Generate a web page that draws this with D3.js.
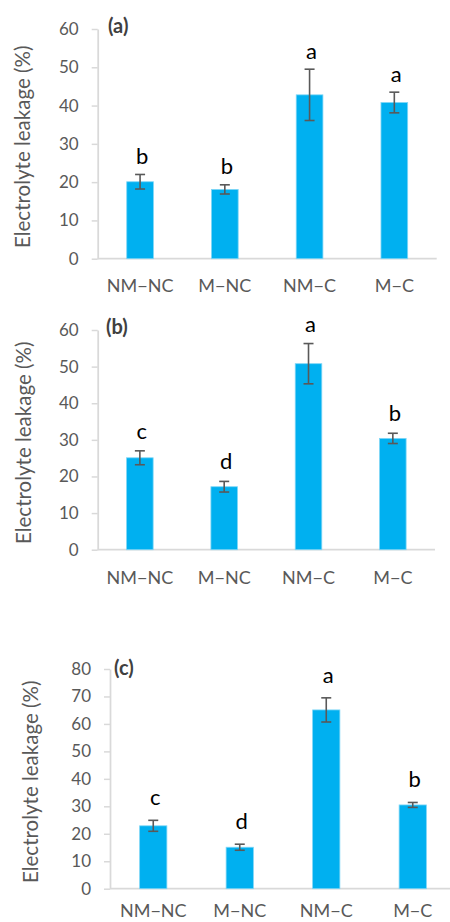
<!DOCTYPE html>
<html>
<head>
<meta charset="utf-8">
<script src="https://cdn.jsdelivr.net/npm/d3@7"></script>
<style>
  html, body { margin: 0; padding: 0; background: #fff; }
  svg { display: block; }
  text { font-family: Lato, "Open Sans", sans-serif; }
</style>
</head>
<body>
<svg id="chart" width="450" height="922"></svg>
<script>
// Treatment groups shared by all three panels
const categories = ["NM\u2212NC", "M\u2212NC", "NM\u2212C", "M\u2212C"];

// Panel (a)
const valuesA = [20.1, 18.1, 42.8, 40.8];
const errorsA = [1.9, 1.2, 6.7, 2.7];
const lettersA = ["b", "b", "a", "a"];

// Panel (b)
const valuesB = [25.1, 17.2, 50.8, 30.4];
const errorsB = [1.9, 1.45, 5.5, 1.4];
const lettersB = ["c", "d", "a", "b"];

// Panel (c)
const valuesC = [22.9, 15.1, 65.1, 30.5];
const errorsC = [2.0, 1.1, 4.4, 0.9];
const lettersC = ["c", "d", "a", "b"];

// Y axis ticks
const ticksAB = [0, 10, 20, 30, 40, 50, 60];
const ticksC = [0, 10, 20, 30, 40, 50, 60, 70, 80];

const yTitle = "Electrolyte leakage (%)";

const svg = d3.select("#chart");

function drawPanel(cfg) {
  const g = svg.append("g");
  const yMax = d3.max(cfg.ticks);

  const x = d3.scaleBand()
    .domain(categories)
    .range([cfg.left, cfg.right])
    .paddingInner(0.685)
    .paddingOuter(0.685 / 2);

  const y = d3.scaleLinear()
    .domain([0, yMax])
    .range([cfg.bottom, cfg.top]);

  // Y axis
  const yAxis = d3.axisLeft(y)
    .tickValues(cfg.ticks)
    .tickSize(6)
    .tickSizeOuter(0)
    .tickPadding(13);

  const ya = g.append("g")
    .attr("transform", `translate(${cfg.left},0)`)
    .call(yAxis);
  ya.select(".domain").attr("stroke", "#d9d9d9").attr("stroke-width", 1.75);
  ya.selectAll(".tick line").attr("stroke", "#d9d9d9").attr("stroke-width", 1.5);
  ya.selectAll(".tick text")
    .attr("fill", "#595959")
    .attr("font-size", 17)
    .attr("font-family", "Lato, sans-serif");

  // X axis (category labels, no tick marks)
  const xAxis = d3.axisBottom(x).tickSize(0).tickSizeOuter(0).tickPadding(0);
  const xa = g.append("g")
    .attr("transform", `translate(0,${cfg.bottom})`)
    .call(xAxis);
  xa.select(".domain")
    .attr("d", `M${cfg.left},0H${cfg.axisEnd}`)
    .attr("stroke", "#d9d9d9").attr("stroke-width", 1.75);
  xa.selectAll(".tick text")
    .attr("dy", null)
    .attr("y", cfg.labelGap)
    .attr("fill", "#595959")
    .attr("font-size", 18)
    .attr("font-family", "Lato, sans-serif");

  const rows = categories.map((c, i) => ({
    cat: c, v: cfg.values[i], e: cfg.errors[i], l: cfg.letters[i]
  }));

  // Bars
  g.append("g").selectAll("rect")
    .data(rows)
    .join("rect")
    .attr("x", d => x(d.cat))
    .attr("width", x.bandwidth())
    .attr("y", d => y(d.v))
    .attr("height", d => y(0) - y(d.v))
    .attr("fill", "#00b0f0")
    .attr("stroke", "#7fd6f6")
    .attr("stroke-width", 0.8);

  // Error bars
  const eb = g.append("g")
    .attr("stroke", "#595959")
    .attr("stroke-width", 1.6)
    .selectAll("g")
    .data(rows)
    .join("g")
    .attr("transform", d => `translate(${x(d.cat) + x.bandwidth() / 2},0)`);
  eb.append("line")
    .attr("y1", d => y(d.v + d.e)).attr("y2", d => y(d.v - d.e));
  eb.append("line")
    .attr("x1", -5).attr("x2", 5)
    .attr("y1", d => y(d.v + d.e)).attr("y2", d => y(d.v + d.e));
  eb.append("line")
    .attr("x1", -5).attr("x2", 5)
    .attr("y1", d => y(d.v - d.e)).attr("y2", d => y(d.v - d.e));

  // Significance letters
  g.append("g").selectAll("text")
    .data(rows)
    .join("text")
    .attr("x", d => x(d.cat) + x.bandwidth() / 2 + 2)
    .attr("y", d => y(d.v + d.e) - cfg.letterGap)
    .attr("text-anchor", "middle")
    .attr("font-size", 22)
    .attr("fill", "#000")
    .text(d => d.l);

  // Panel tag
  g.append("text")
    .attr("x", cfg.tagX)
    .attr("y", cfg.tagY)
    .attr("font-size", 20)
    .attr("font-weight", 700)
    .attr("fill", "#404040")
    .text(cfg.tag);

  // Y axis title
  g.append("text")
    .attr("transform", `translate(${cfg.titleX},${(cfg.top + cfg.bottom) / 2 + 3}) rotate(-90)`)
    .attr("text-anchor", "middle")
    .attr("font-size", 20.5)
    .attr("fill", "#595959")
    .text(yTitle);
}

drawPanel({
  values: valuesA, errors: errorsA, letters: lettersA, ticks: ticksAB, tag: "(a)",
  left: 97.7, right: 436.7, axisEnd: 436.7, top: 29, bottom: 258.7,
  labelGap: 33.5, letterGap: 10.5, tagX: 108, tagY: 33, titleX: 30
});

drawPanel({
  values: valuesB, errors: errorsB, letters: lettersB, ticks: ticksAB, tag: "(b)",
  left: 97.7, right: 435, axisEnd: 435, top: 330, bottom: 549.7,
  labelGap: 34, letterGap: 12, tagX: 106, tagY: 334, titleX: 30.5
});

drawPanel({
  values: valuesC, errors: errorsC, letters: lettersC, ticks: ticksC, tag: "(c)",
  left: 110, right: 456, axisEnd: 456, top: 669, bottom: 888.7,
  labelGap: 28.5, letterGap: 15, tagX: 114, tagY: 675, titleX: 38
});
</script>
</body>
</html>
